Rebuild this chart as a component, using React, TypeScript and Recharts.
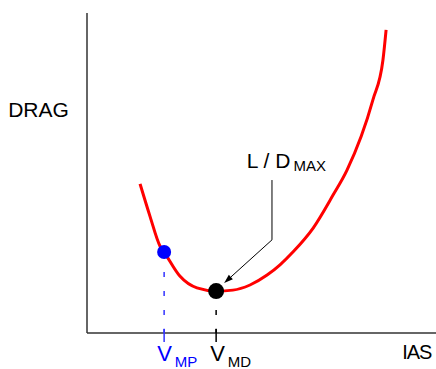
import { ComposedChart, Line, XAxis, YAxis, ReferenceDot, ReferenceLine } from 'recharts';

// drag curve (IAS / DRAG in 0..100 units)
const IAS = [15.2, 18.1, 20.9, 22.1, 26.6, 31.5, 37.0, 41.8, 46.7, 51.6, 55.3, 59.0, 64.8, 70.5, 74.5, 81.9, 84.8, 85.7];
const DRAG = [46.6, 36.3, 27.2, 25.3, 17.8, 14.1, 13.1, 13.4, 15.0, 18.1, 21.3, 25.3, 32.8, 43.1, 50.9, 72.8, 85.3, 94.7];

const VMP = { ias: 22.1, drag: 25.3 };
const VMD = { ias: 37.0, drag: 13.1 };

// leader line for L / D max: top, knee, arrow tip
const LEADER = [
  { ias: 53.0, drag: 47.8 },
  { ias: 53.0, drag: 29.1 },
  { ias: 39.3, drag: 15.6 },
];

const data = IAS.map((x, i) => ({ ias: x, drag: DRAG[i] }));

const FONT = '"Liberation Sans", Arial, sans-serif';
const RED = '#ff0000';
const BLUE = '#0000ff';
const AXIS = '#333';

function label(main: string, sub: string | null, color: string, size: number, shift = 0, subDy = 6, extra: any = {}) {
  return (p: any) => (
    <text x={p.cx + shift} y={p.cy} fill={color} fontFamily={FONT} fontSize={size} {...extra}>
      {main}
      {sub && <tspan dx={3} dy={subDy} fontSize={15}>{sub}</tspan>}
    </text>
  );
}

function Arrow(p: any) {
  const { x1, y1, x2, y2 } = p;
  const len = Math.hypot(x2 - x1, y2 - y1);
  const ux = (x2 - x1) / len, uy = (y2 - y1) / len;
  const bx = x2 - ux * 9, by = y2 - uy * 9;
  const nx = -uy * 3, ny = ux * 3;
  return (
    <g>
      <line x1={x1} y1={y1} x2={bx} y2={by} stroke="#000" strokeWidth={1} />
      <polygon points={`${x2},${y2} ${bx + nx},${by + ny} ${bx - nx},${by - ny}`} fill="#000" />
    </g>
  );
}

export default function App() {
  return (
    <div style={{ position: 'absolute', left: 0, top: 0 }}>
      <ComposedChart width={436} height={369} data={data} margin={{ top: 13, right: 0, bottom: 36, left: 87 }}>
        <XAxis dataKey="ias" type="number" domain={[0, 100]} hide />
        <YAxis type="number" domain={[0, 100]} hide />

        {/* axes */}
        <ReferenceLine y={0} stroke={AXIS} strokeWidth={1.5} />
        <ReferenceLine x={0} stroke={AXIS} strokeWidth={1.5} />

        {/* drop lines + ticks */}
        <ReferenceLine segment={[{ x: VMP.ias, y: 19.06 }, { x: VMP.ias, y: 0 }]} stroke="#3333ff" strokeWidth={1.5} strokeDasharray="5 14" />
        <ReferenceLine segment={[{ x: VMP.ias, y: 1.3 }, { x: VMP.ias, y: -2.8 }]} stroke="#3333ff" strokeWidth={1.5} ifOverflow="visible" />
        <ReferenceLine segment={[{ x: VMD.ias, y: 7.2 }, { x: VMD.ias, y: 0 }]} stroke="#000" strokeWidth={1.5} strokeDasharray="5 14" />
        <ReferenceLine segment={[{ x: VMD.ias, y: 1.3 }, { x: VMD.ias, y: -2.8 }]} stroke="#000" strokeWidth={1.5} ifOverflow="visible" />

        <Line dataKey="drag" type="monotone" stroke={RED} strokeWidth={3} dot={false} activeDot={false} isAnimationActive={false} />

        <ReferenceLine segment={[{ x: LEADER[0].ias, y: LEADER[0].drag }, { x: LEADER[1].ias, y: LEADER[1].drag }]} stroke="#000" strokeWidth={1} />
        <ReferenceLine segment={[{ x: LEADER[1].ias, y: LEADER[1].drag }, { x: LEADER[2].ias, y: LEADER[2].drag }]} shape={Arrow} />

        <ReferenceDot x={VMP.ias} y={VMP.drag} r={7} fill={BLUE} stroke="none" />
        <ReferenceDot x={VMD.ias} y={VMD.drag} r={8} fill="#000" stroke="none" />

        {/* text */}
        <ReferenceDot x={-22.6} y={67.5} ifOverflow="visible" shape={label('DRAG', null, '#000', 21)} />
        <ReferenceDot x={90.3} y={-8.1} ifOverflow="visible" shape={label('IAS', null, '#000', 20, 0, 0, { letterSpacing: -1 })} />
        <ReferenceDot x={VMP.ias} y={-8.75} ifOverflow="visible" shape={label('V', 'MP', BLUE, 22, -7, 6)} />
        <ReferenceDot x={VMD.ias} y={-8.75} ifOverflow="visible" shape={label('V', 'MD', '#000', 22, -6, 6)} />
        <ReferenceDot x={45.8} y={51.6} ifOverflow="visible" shape={label('L / D', 'MAX', '#000', 21, 0, 3)} />
      </ComposedChart>
    </div>
  );
}
